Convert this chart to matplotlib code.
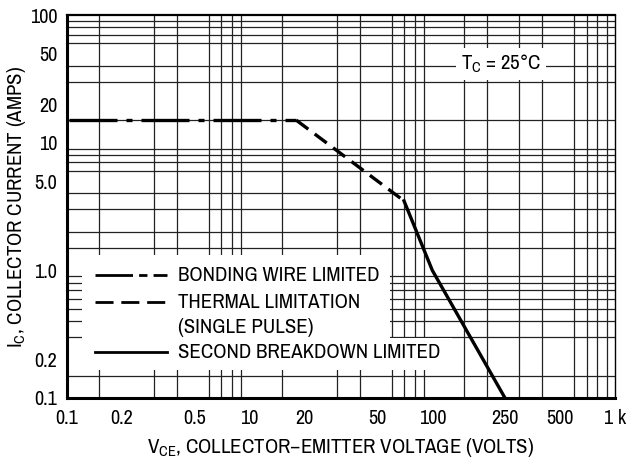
import matplotlib.pyplot as plt
from matplotlib.patches import Rectangle

# Data (VCE in volts, IC in amps)
vce_bond = [1.03, 18]
ic_bond = [15, 15]
vce_thermal = [18, 70]
ic_thermal = [15, 3.5]
vce_sb = [70, 100, 250]
ic_sb = [3.5, 1.0, 0.1]

x_tick_pos = [1, 2, 5, 10, 20, 50, 100, 250, 500, 1000]
x_tick_labels = ['0.1', '0.2', '0.5', '10', '20', '50', '100', '250', '500', '1 k']
y_tick_pos = [0.1, 0.2, 1.0, 5.0, 10, 20, 50, 100]
y_tick_labels = ['0.1', '0.2', '1.0', '5.0', '10', '20', '50', '100']
grid_steps = [1, 1.5, 2, 3, 4, 5, 6, 7, 8, 9]

plt.rcParams['font.family'] = ['Archivo Narrow', 'Roboto Condensed', 'Liberation Sans', 'DejaVu Sans']

bond_style = (0, (14.4, 2.7, 1.8, 2.7))
thermal_style = (0, (4.5, 2.4))

fig = plt.figure(figsize=(6.29, 4.59), dpi=100)
ax = fig.add_axes([0.1065, 0.1329, 0.8712, 0.8344])
ax.set_xscale('log')
ax.set_yscale('log')
ax.set_xlim(1, 1000)
ax.set_ylim(0.1, 100)

# Grid on minor ticks only
ax.set_xticks([s * d for d in [1, 10, 100] for s in grid_steps] + [1000], minor=True)
ax.set_yticks([s * d for d in [0.1, 1, 10] for s in grid_steps] + [100], minor=True)
ax.set_xticklabels([], minor=True)
ax.set_yticklabels([], minor=True)
ax.set_xticks(x_tick_pos)
ax.set_xticklabels(x_tick_labels)
ax.set_yticks(y_tick_pos)
ax.set_yticklabels(y_tick_labels)
ax.tick_params(which='both', length=0, labelsize=14.5)
ax.tick_params(axis='x', pad=8)
ax.tick_params(axis='y', pad=7)
ax.grid(which='minor', color='#222222', linewidth=0.9)
ax.grid(which='major', visible=False)

for side, lw in [('left', 2.2), ('bottom', 2.2), ('top', 1.6), ('right', 1.0)]:
    ax.spines[side].set_linewidth(lw)

# Curves
ax.plot(vce_bond, ic_bond, color='black', lw=2.4, linestyle=bond_style, zorder=5)
ax.plot(vce_thermal, ic_thermal, color='black', lw=2.4, linestyle=thermal_style, zorder=5)
ax.plot(vce_sb, ic_sb, color='black', lw=2.4, zorder=5)

# Legend (white boxes over the grid)
ax.add_patch(Rectangle((0.027, 0.157), 0.562, 0.216, transform=ax.transAxes,
                       facecolor='white', edgecolor='none', zorder=3))
ax.add_patch(Rectangle((0.027, 0.073), 0.676, 0.084, transform=ax.transAxes,
                       facecolor='white', edgecolor='none', zorder=3))
ax.plot([0.051, 0.182], [0.321, 0.321], transform=ax.transAxes, color='black', lw=2,
        linestyle=(0, (13.5, 2.2, 3, 2.2)), zorder=6)
ax.plot([0.051, 0.182], [0.250, 0.250], transform=ax.transAxes, color='black', lw=2,
        linestyle=(0, (6.5, 2.8)), zorder=6)
ax.plot([0.051, 0.182], [0.119, 0.119], transform=ax.transAxes, color='black', lw=2, zorder=6)
legend_text = [('BONDING WIRE LIMITED', 0.321), ('THERMAL LIMITATION', 0.250),
               ('(SINGLE PULSE)', 0.185), ('SECOND BREAKDOWN LIMITED', 0.119)]
for txt, yy in legend_text:
    ax.text(0.203, yy, txt, transform=ax.transAxes, fontsize=15, va='center', ha='left', zorder=6)

ax.text(0.792, 0.872, r'T$_\mathregular{C}$ = 25°C', transform=ax.transAxes, fontsize=15,
        ha='center', va='center', zorder=6,
        bbox=dict(facecolor='white', edgecolor='none', pad=3.5))

ax.set_xlabel(r'V$_\mathregular{CE}$, COLLECTOR–EMITTER VOLTAGE (VOLTS)', fontsize=15, labelpad=6)
ax.set_ylabel(r'I$_\mathregular{C}$, COLLECTOR CURRENT (AMPS)', fontsize=15)
ax.yaxis.set_label_coords(-0.072, 0.5)

plt.savefig('out.png', dpi=100)
